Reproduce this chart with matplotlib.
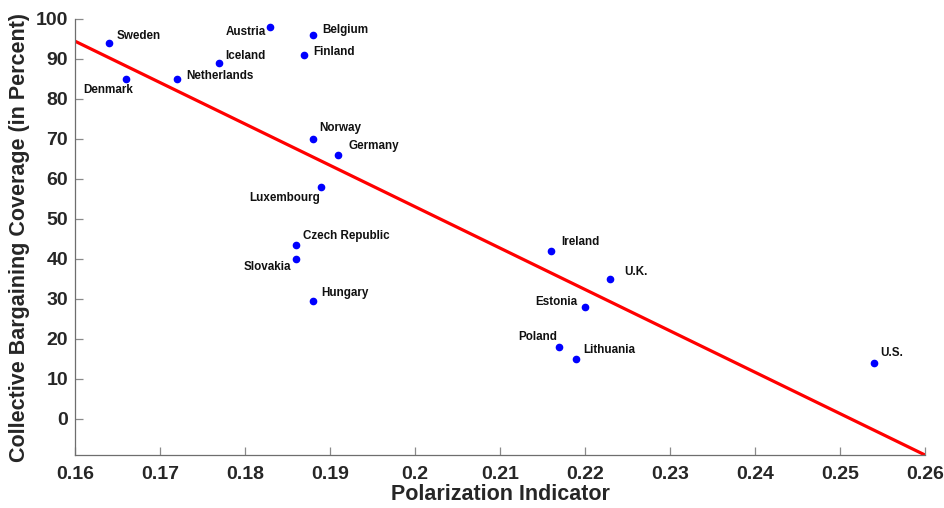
import numpy as np
import matplotlib
matplotlib.use("Agg")
import matplotlib.pyplot as plt

plt.rcParams['font.family'] = ['Liberation Sans', 'DejaVu Sans']
plt.rcParams['font.weight'] = 'bold'

countries = ["Sweden", "Denmark", "Netherlands", "Iceland", "Austria", "Belgium",
             "Finland", "Norway", "Germany", "Luxembourg", "Czech Republic",
             "Slovakia", "Hungary", "Ireland", "U.K.", "Estonia", "Poland",
             "Lithuania", "U.S."]
polarization = [0.164, 0.166, 0.172, 0.177, 0.183, 0.188, 0.187, 0.188, 0.191,
                0.189, 0.186, 0.186, 0.188, 0.216, 0.223, 0.220, 0.217, 0.219, 0.254]
coverage = [94, 85, 85, 89, 98, 96, 91, 70, 66, 58, 43.5, 40, 29.5, 42, 35, 28,
            18, 15, 14]

# label offsets in pixels (dx, dy, horizontal alignment)
offsets = {
    "Sweden": (8, 7, "left"), "Denmark": (7, -11, "right"),
    "Netherlands": (9, 3, "left"), "Iceland": (6, 7, "left"),
    "Austria": (-5, -5, "right"), "Belgium": (9, 5, "left"),
    "Finland": (9, 3, "left"), "Norway": (6, 11, "left"),
    "Germany": (10, 9, "left"), "Luxembourg": (-1, -11, "right"),
    "Czech Republic": (7, 9, "left"), "Slovakia": (-5, -8, "right"),
    "Hungary": (8, 8, "left"), "Ireland": (10, 9, "left"),
    "U.K.": (14, 7, "left"), "Estonia": (-8, 5, "right"),
    "Poland": (-2, 10, "right"), "Lithuania": (7, 9, "left"),
    "U.S.": (6, 10, "left"),
}

x = np.array(polarization)
y = np.array(coverage)
slope, intercept = np.polyfit(x, y, 1)
xfit = np.array([0.16, 0.26])
yfit = slope * xfit + intercept

fig = plt.figure(figsize=(9.45, 5.08), dpi=100)
ax = fig.add_axes([75 / 945, 53 / 508, 850 / 945, 436 / 508])

ax.plot(xfit, yfit, color=(1, 0, 0), linewidth=2.3, zorder=2)
ax.plot(x, y, 'o', color=(0, 0, 1), markersize=4.5, zorder=3)

for name, xi, yi in zip(countries, x, y):
    dx, dy, ha = offsets[name]
    ax.annotate(name, (xi, yi), xytext=(dx, dy), textcoords='offset pixels',
                ha=ha, va='center', fontsize=8.4, fontweight='bold', color='#111111')

ax.set_xlim(0.16, 0.26)
ax.set_ylim(yfit[1], 100)
ax.set_xticks(np.arange(0.16, 0.2601, 0.01))
ax.set_xticklabels(["0.16", "0.17", "0.18", "0.19", "0.2", "0.21", "0.22",
                    "0.23", "0.24", "0.25", "0.26"])
ax.set_yticks(np.arange(0, 101, 10))

for side in ["top", "right"]:
    ax.spines[side].set_visible(False)
for side in ["left", "bottom"]:
    ax.spines[side].set_color('#6e6e6e')
    ax.spines[side].set_linewidth(0.9)

ax.tick_params(direction='in', length=6, width=0.9, color='#8a8a8a',
               labelcolor='#262626', labelsize=14)
ax.tick_params(axis='x', pad=8)
ax.tick_params(axis='y', pad=5)
for lab in ax.get_xticklabels() + ax.get_yticklabels():
    lab.set_fontweight('bold')

ax.set_xlabel("Polarization Indicator", fontsize=15.5, fontweight='bold',
              color='#262626', labelpad=1)
ax.set_ylabel("Collective Bargaining Coverage (in Percent)", fontsize=15.5,
              fontweight='bold', color='#262626', labelpad=4)

fig.savefig("out.png", dpi=100)
